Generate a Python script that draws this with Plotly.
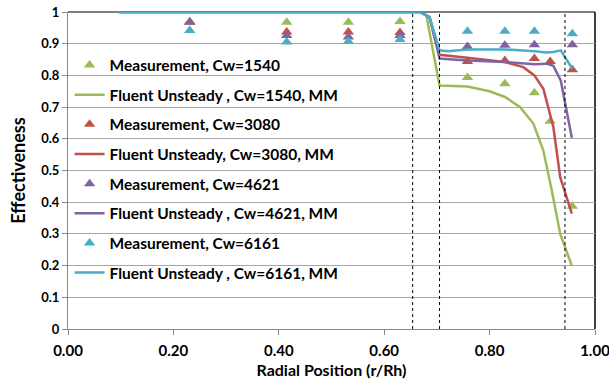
import plotly.graph_objects as go

# ---- data ----
meas_x_1540 = [0.231, 0.415, 0.532, 0.630, 0.758, 0.829, 0.885, 0.915, 0.957]
meas_y_1540 = [0.970, 0.968, 0.968, 0.970, 0.793, 0.774, 0.745, 0.655, 0.387]
meas_x_3080 = [0.231, 0.415, 0.532, 0.630, 0.758, 0.829, 0.885, 0.915, 0.957]
meas_y_3080 = [0.968, 0.937, 0.937, 0.935, 0.844, 0.847, 0.853, 0.844, 0.818]
meas_x_4621 = [0.231, 0.415, 0.532, 0.630, 0.758, 0.829, 0.885, 0.957]
meas_y_4621 = [0.968, 0.926, 0.921, 0.926, 0.891, 0.895, 0.897, 0.897]
meas_x_6161 = [0.231, 0.415, 0.532, 0.630, 0.758, 0.829, 0.885, 0.957]
meas_y_6161 = [0.942, 0.905, 0.907, 0.913, 0.939, 0.939, 0.939, 0.931]

sim_x_1540 = [0.096, 0.668, 0.680, 0.705, 0.758, 0.800, 0.829, 0.858, 0.883, 0.902, 0.918, 0.934, 0.956]
sim_y_1540 = [1.000, 1.000, 0.989, 0.768, 0.765, 0.750, 0.732, 0.700, 0.648, 0.563, 0.437, 0.300, 0.200]
sim_x_3080 = [0.096, 0.668, 0.686, 0.705, 0.758, 0.829, 0.864, 0.885, 0.902, 0.921, 0.934, 0.956]
sim_y_3080 = [1.000, 1.000, 0.984, 0.865, 0.856, 0.842, 0.826, 0.800, 0.758, 0.637, 0.479, 0.364]
sim_x_4621 = [0.096, 0.668, 0.686, 0.705, 0.758, 0.829, 0.885, 0.908, 0.921, 0.935, 0.956]
sim_y_4621 = [1.000, 1.000, 0.984, 0.853, 0.847, 0.842, 0.835, 0.837, 0.830, 0.784, 0.603]
sim_x_6161 = [0.096, 0.668, 0.686, 0.705, 0.721, 0.758, 0.829, 0.864, 0.885, 0.908, 0.921, 0.935, 0.957]
sim_y_6161 = [1.000, 1.000, 0.984, 0.879, 0.876, 0.882, 0.882, 0.879, 0.876, 0.872, 0.874, 0.879, 0.821]

ref_lines_x = [0.654, 0.705, 0.943]

x_ticks = [0.0, 0.2, 0.4, 0.6, 0.8, 1.0]
y_ticks = [0, 0.1, 0.2, 0.3, 0.4, 0.5, 0.6, 0.7, 0.8, 0.9, 1.0]

GREEN, RED, PURPLE, CYAN = "#9BBB59", "#C0504D", "#8064A2", "#4BACC6"

series = [
    ("Measurement, Cw=1540", "Fluent Unsteady , Cw=1540, MM", meas_x_1540, meas_y_1540, sim_x_1540, sim_y_1540, GREEN),
    ("Measurement, Cw=3080", "Fluent Unsteady, Cw=3080, MM", meas_x_3080, meas_y_3080, sim_x_3080, sim_y_3080, RED),
    ("Measurement, Cw=4621", "Fluent Unsteady , Cw=4621, MM", meas_x_4621, meas_y_4621, sim_x_4621, sim_y_4621, PURPLE),
    ("Measurement, Cw=6161", "Fluent Unsteady , Cw=6161, MM", meas_x_6161, meas_y_6161, sim_x_6161, sim_y_6161, CYAN),
]

FONT = "Lato"
fig = go.Figure()
for i, (mn, sn, mx, my, sx, sy, col) in enumerate(series):
    fig.add_trace(go.Scatter(x=mx, y=my, mode="markers", name=mn, legendgroup=f"m{i}",
                             marker=dict(symbol="triangle-up", size=10, color=col)))
    fig.add_trace(go.Scatter(x=sx, y=sy, mode="lines", name=sn, legendgroup=f"s{i}",
                             line=dict(color=col, width=2.5)))

for xv in ref_lines_x:
    fig.add_shape(type="line", x0=xv, x1=xv, y0=0, y1=1, xref="x", yref="y",
                  line=dict(color="black", width=1, dash="dot"), layer="above")

# frame (top & right black)
fig.add_shape(type="line", x0=0, x1=1, y0=1, y1=1, xref="paper", yref="paper",
              line=dict(color="black", width=1), layer="below")
fig.add_shape(type="line", x0=1, x1=1, y0=0, y1=1, xref="paper", yref="paper",
              line=dict(color="black", width=1.5), layer="below")

fig.update_layout(
    width=609, height=383,
    margin=dict(l=68, r=14, t=12, b=54, autoexpand=False),
    paper_bgcolor="white", plot_bgcolor="white",
    font=dict(family=FONT, color="black"),
    showlegend=True,
    legend=dict(x=0.003, y=0.885, xanchor="left", yanchor="top", bgcolor="rgba(0,0,0,0)",
                font=dict(family=FONT, size=15.5, color="black", weight="bold"),
                tracegroupgap=6.5, itemwidth=30),
    xaxis=dict(range=[0, 1], tickvals=x_ticks, tickformat=".2f", automargin=False,
               ticklabeloverflow="allow", ticklabelstandoff=3,
               showgrid=False, zeroline=False, showline=True, linecolor="#868686", linewidth=1,
               ticks="outside", ticklen=5, tickcolor="#868686",
               tickfont=dict(family=FONT, size=15, weight="bold"),
               title=dict(text="Radial Position (r/Rh)", font=dict(family=FONT, size=16, weight="bold"), standoff=6)),
    yaxis=dict(range=[0, 1], tickvals=y_ticks, automargin=False,
               showgrid=True, gridcolor="#A6A6A6", gridwidth=1, zeroline=False,
               showline=True, linecolor="#868686", linewidth=1,
               ticks="outside", ticklen=5, tickcolor="#868686",
               tickfont=dict(family=FONT, size=13, weight="bold"),
               title=dict(text="Effectiveness", font=dict(family=FONT, size=18, weight="bold"), standoff=10)),
)

fig.write_html("out.html", config={"displayModeBar": False},
               post_script="document.body.style.margin='0';")
